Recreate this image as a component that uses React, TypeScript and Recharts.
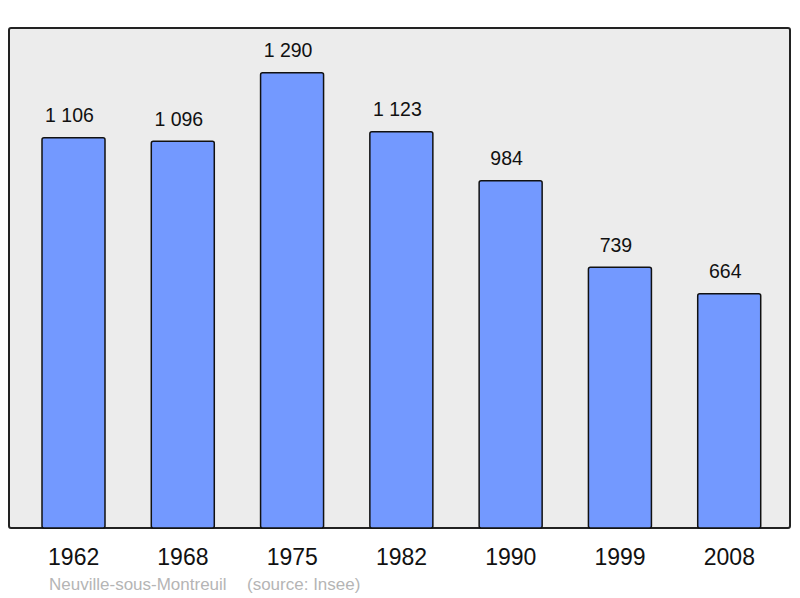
import { Bar, BarChart, LabelList, XAxis, YAxis } from 'recharts';

const YEARS = ['1962', '1968', '1975', '1982', '1990', '1999', '2008'];
const POPULATION = [1106, 1096, 1290, 1123, 984, 739, 664];

const data = YEARS.map((year, i) => ({ year, population: POPULATION[i] }));

const FONT = '"Liberation Sans", Arial, sans-serif';

const formatPop = (v: unknown) =>
  String(v).replace(/\B(?=(\d{3})+(?!\d))/g, ' ');

// value label a bit left of the bar centre, like the original svg
function ValueLabel(props: any) {
  const { x, y, width, value } = props;
  return (
    <text
      x={Number(x) + Number(width) / 2 - 4}
      y={Number(y) - 15.5}
      textAnchor="middle"
      fill="#111"
      fontSize={19.5}
      fontFamily={FONT}
    >
      {formatPop(value)}
    </text>
  );
}

export default function App() {
  return (
    <div style={{ position: 'absolute', left: 0, top: 0, width: 800, height: 598, background: '#fff', fontFamily: FONT }}>
      <div
        style={{
          position: 'absolute',
          left: 8,
          top: 27,
          width: 783,
          height: 502,
          boxSizing: 'border-box',
          border: '2px solid #222',
          borderRadius: 3,
          background: '#ececec',
        }}
      />
      <div style={{ position: 'absolute', left: 0, top: 0 }}>
        <BarChart
          width={800}
          height={598}
          data={data}
          margin={{ top: 27, left: 9, right: 9, bottom: 30 }}
        >
          <XAxis
            dataKey="year"
            height={40}
            axisLine={false}
            tickLine={false}
            tickSize={0}
            tickMargin={20.5}
            padding={{ left: 10, right: 7 }}
            tick={{ fill: '#111', fontSize: 23, fontFamily: FONT }}
            interval={0}
          />
          <YAxis hide domain={[0, 1420]} />
          <Bar
            dataKey="population"
            fill="#7399ff"
            stroke="#111"
            strokeWidth={1.5}
            radius={2}
            barSize={63}
            isAnimationActive={false}
          >
            <LabelList dataKey="population" content={ValueLabel} />
          </Bar>
        </BarChart>
      </div>
      <div style={{ position: 'absolute', left: 49, top: 576, fontSize: 17, lineHeight: '17px', color: '#b5b5b5', whiteSpace: 'pre' }}>
        Neuville-sous-Montreuil
      </div>
      <div style={{ position: 'absolute', left: 247, top: 576, fontSize: 17, lineHeight: '17px', color: '#b5b5b5', whiteSpace: 'pre' }}>
        (source: Insee)
      </div>
    </div>
  );
}
